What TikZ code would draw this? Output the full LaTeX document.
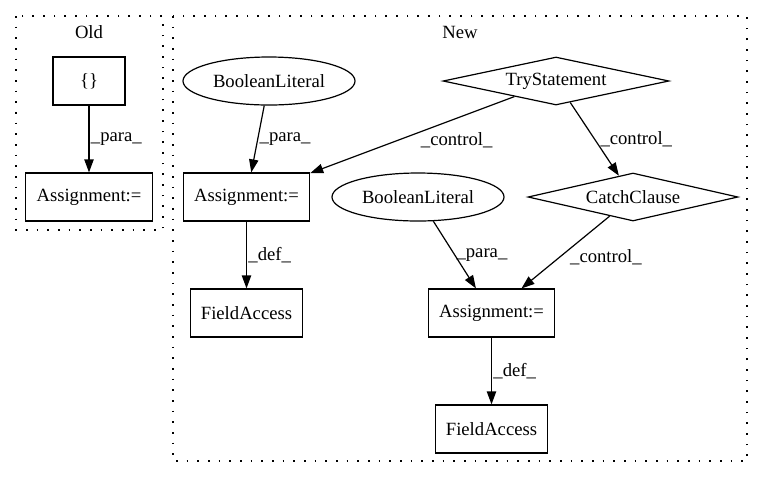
\documentclass[tikz,border=0pt]{standalone}
\usepackage{fontspec}
\setmainfont{Liberation Serif}
\usetikzlibrary{shapes.geometric,arrows.meta}
\begin{document}
\begin{tikzpicture}[x=.75pt,y=-.75pt,
  font=\fontsize{14}{16}\selectfont,
  box/.style={draw, line width=.9pt, rectangle, inner xsep=8pt, minimum width=54pt, minimum height=36pt},
  lit/.style={draw, line width=.9pt, ellipse, inner sep=0pt, minimum width=129pt, minimum height=36pt},
  cond/.style={draw, line width=.9pt, diamond, aspect=5, inner sep=0pt, minimum height=36pt},
  cluster/.style={line width=.9pt, dash pattern=on 1.2pt off 6.8pt},
  flow/.style={-{Triangle[length=9.75pt,width=7pt]}, line width=.9pt},
  lbl/.style={inner sep=1pt, anchor=west}]
\useasboundingbox (0,0) rectangle (763,480);

%%%%%%%%%%%%%-------------clusters
\draw[cluster] (16,16) rectangle (163,230);
\draw[cluster] (173,16) rectangle (747,461);
\node (oldtitle) at (89,32) {Old};
\node (newtitle) at (460,32) {New};

%%%%%%%%%%%%%-------------Old
\node[box] (oldbrace) at (89,81) {\{\}};
\node[box] (oldasg) at (89,197) {Assignment:=};
\draw[flow] (oldbrace) -- (oldasg) node[lbl, pos=.5] (l0) {\_para\_};

%%%%%%%%%%%%%-------------New
\node[lit] (bool1) at (269,81) {BooleanLiteral};
\node[cond, minimum width=169.5pt] (try) at (556,81) {TryStatement};
\node[box] (asg1) at (246.5,197) {Assignment:=};
\node[lit] (bool2) at (418,197) {BooleanLiteral};
\node[cond, minimum width=157.5pt] (catch) at (633,197) {CatchClause};
\node[box] (field1) at (246.5,313) {FieldAccess};
\node[box] (asg2) at (491.5,313) {Assignment:=};
\node[box] (field2) at (491.5,429) {FieldAccess};

\draw[flow] (bool1) -- (asg1) node[lbl, pos=.5] (l1) {\_para\_};
\draw[flow] (try) -- (asg1) node[lbl, pos=.5, xshift=5pt, yshift=-4pt] (l2) {\_control\_};
\draw[flow] (try) -- (catch) node[lbl, pos=.5, xshift=3pt] (l3) {\_control\_};
\draw[flow] (asg1) -- (field1) node[lbl, pos=.5] (l4) {\_def\_};
\draw[flow] (bool2) -- (asg2) node[lbl, pos=.5] (l5) {\_para\_};
\draw[flow] (catch) -- (asg2) node[lbl, pos=.5, xshift=2pt, yshift=-3.5pt] (l6) {\_control\_};
\draw[flow] (asg2) -- (field2) node[lbl, pos=.5] (l7) {\_def\_};

\end{tikzpicture}
\end{document}
